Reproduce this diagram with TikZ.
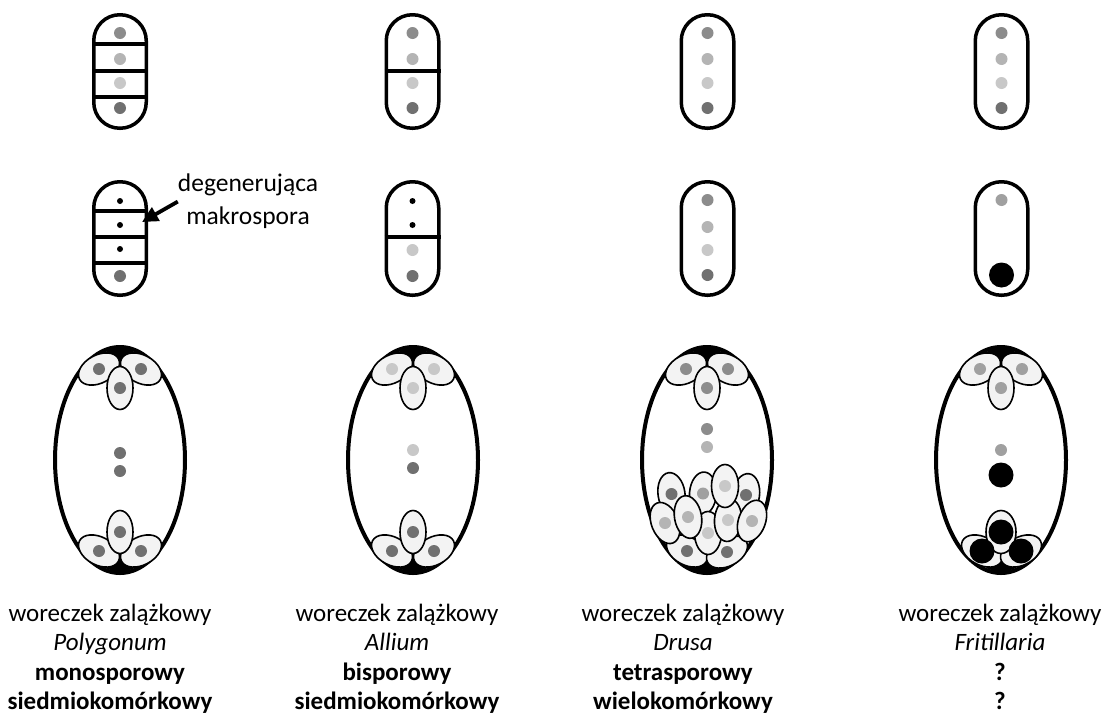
\documentclass[tikz,border=0pt]{standalone}
\usepackage{fontspec}
\setmainfont{Carlito}
\usetikzlibrary{positioning,shapes.geometric,arrows.meta}

\definecolor{gdark}{HTML}{707070}
\definecolor{gmid}{HTML}{8C8C8C}
\definecolor{gsoft}{HTML}{A0A0A0}
\definecolor{glight}{HTML}{B4B4B4}
\definecolor{gpale}{HTML}{C8C8C8}
\definecolor{cellfill}{HTML}{F3F3F3}

\begin{document}
\begin{tikzpicture}[x=1pt,y=-1pt,
    tetrad/.style={draw,line width=3.5pt,rounded corners=26pt,minimum width=52.5pt,minimum height=113.5pt,inner sep=0pt},
    wall/.style={line width=3.5pt},
    nuc/.style={circle,fill=#1,inner sep=0pt,minimum size=12pt},
    speck/.style={circle,fill=black,inner sep=0pt,minimum size=6pt},
    bignuc/.style={circle,fill=black,inner sep=0pt,minimum size=25pt},
    sac/.style={ellipse,draw,line width=4pt,minimum width=130pt,minimum height=226pt,inner sep=0pt},
    cell/.style={ellipse,draw,line width=1.6pt,fill=cellfill,inner sep=0pt,minimum width=26pt,minimum height=43pt},
    side/.style={cell,minimum width=44pt,minimum height=28pt,rotate=#1},
    caption/.style={align=center,inner sep=0pt,font=\fontsize{25}{29.3}\selectfont},
    pointer/.style={-{Triangle[length=16pt,width=15pt]},line width=3.8pt}]

\useasboundingbox (0,0) rectangle (1118,718);

% tetrads
\foreach \x [count=\c] in {120,412.5,707.5,1001.5}{
  \node[tetrad] (t\c1) at (\x,71.5) {};
  \node[tetrad] (t\c2) at (\x,238.5) {};
  \foreach \y/\col [count=\k] in {33/gmid,59/glight,83/gpale,108/gdark}
    \node[nuc=\col] (d\c\k) at (t\c1 |- 0,\y) {};
}
\foreach \y in {44,71,97} \draw[wall] (t11.west |- 0,\y) -- (t11.east |- 0,\y);
\draw[wall] (t21.west |- 0,71) -- (t21.east |- 0,71);
\foreach \y in {211,237,263} \draw[wall] (t12.west |- 0,\y) -- (t12.east |- 0,\y);
\draw[wall] (t22.west |- 0,237) -- (t22.east |- 0,237);

\foreach \y [count=\k] in {201,225,249} \node[speck] (e1\k) at (t12 |- 0,\y) {};
\node[nuc=gdark] (e14) at (t12 |- 0,276) {};
\foreach \y [count=\k] in {201,225} \node[speck] (e2\k) at (t22 |- 0,\y) {};
\node[nuc=gpale] (e23) at (t22 |- 0,250) {};
\node[nuc=gdark] (e24) at (t22 |- 0,276) {};
\foreach \y/\col [count=\k] in {200/gmid,227/glight,250/gpale,275/gdark}
  \node[nuc=\col] (e3\k) at (t32 |- 0,\y) {};
\node[nuc=gsoft] (e41) at (t42 |- 0,200) {};
\node[bignuc] (e42) at (t42 |- 0,275) {};

\node[caption,font=\fontsize{25.5}{33}\selectfont,anchor=north] (degen) at (248,174) {degenerująca\\makrospora};
\coordinate (target) at (142,222);
\draw[pointer] (degen.west) -- (target);

% embryo sacs
\foreach \x/\w [count=\c] in {120/15,413/15,707/22,1001/15}{
  \node[sac] (s\c) at (\x,460) {};
  \fill (\x-15,350) -- (\x,346) -- (\x+15,350) -- (\x,367) -- cycle;
  \fill (\x-\w,568) -- (\x,574) -- (\x+\w,568) -- (\x,552) -- cycle;
}
\foreach \x/\col [count=\c] in {120/gdark,413/gpale,707/gmid,1001/gsoft}{
  \node[side=28] (syl\c) at (\x-21,369) {};
  \node[side=-28] (syr\c) at (\x+21,369) {};
  \node[cell] (egg\c) at (\x,388) {};
  \foreach \p in {syl\c,syr\c,egg\c} \node[nuc=\col] (\p n) at (\p) {};
}
\foreach \x/\c in {120/1,413/2}{
  \node[side=-28] (al\c) at (\x-21,551) {};
  \node[side=28] (ar\c) at (\x+21,551) {};
  \node[cell] (am\c) at (\x,532) {};
  \foreach \p in {al\c,ar\c,am\c} \node[nuc=gdark] (\p n) at (\p) {};
}
\node[side=-28] (al4) at (982,551) {};
\node[side=28] (ar4) at (1021,551) {};
\node[cell,minimum width=30pt] (am4) at (1001,532) {};
\foreach \p in {al4,ar4,am4} \node[bignuc] (\p n) at (\p) {};

\node[nuc=gdark] (c11) at (120,453) {};
\node[nuc=gdark] (c12) at (120,471) {};
\node[nuc=gpale] (c21) at (413,450) {};
\node[nuc=gdark] (c22) at (413,468) {};
\node[nuc=gmid] (c31) at (707,429) {};
\node[nuc=glight] (c32) at (707,447) {};
\node[nuc=gsoft] (c41) at (1001,450) {};
\node[bignuc] (c42) at (1001,475) {};

% Drusa: many cells crowded at the chalazal end
\node[side=-28] (dj) at (687,551) {};
\node[side=28] (dk) at (727,552) {};
\foreach \p in {dj,dk} \node[nuc=gdark] (\p n) at (\p) {};
\foreach \px/\py/\r/\col [count=\k] in {671.5/494/8/gdark,703/493.5/-4/gsoft,746/495/-8/gdark,
    708/533/0/gpale,728/520/-4/gpale,725/486/0/gpale,665/523/22/glight,688/517/10/glight,752/521/-20/glight}{
  \node[cell,minimum width=27pt,rotate=\r] (dr\k) at (\px,\py) {};
  \node[nuc=\col] (dn\k) at (dr\k) {};
}

% captions
\foreach \x/\genus/\spor/\cnt [count=\c] in {110/Polygonum/monosporowy/siedmiokomórkowy,
    397/Allium/bisporowy/siedmiokomórkowy,683/Drusa/tetrasporowy/wielokomórkowy,1000/Fritillaria/?/?}
  \node[caption,anchor=north] (txt\c) at (\x,604) {woreczek zalążkowy\\\textit{\genus}\\\textbf{\spor}\\\textbf{\cnt}};
\end{tikzpicture}
\end{document}
